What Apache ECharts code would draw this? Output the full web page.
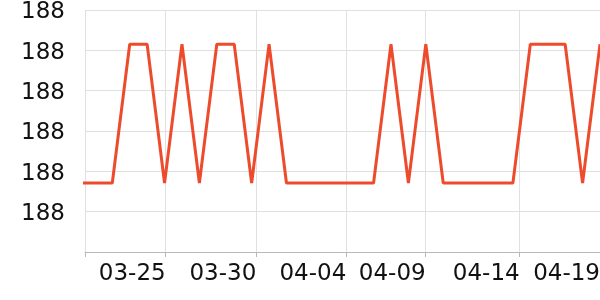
<!DOCTYPE html>
<html>
<head>
<meta charset="utf-8">
<script src="https://cdn.jsdelivr.net/npm/echarts@6/dist/echarts.min.js"></script>
<style>html,body{margin:0;padding:0;background:#fff}#c{width:600px;height:300px}</style>
</head>
<body>
<div id="c"></div>
<script>
// sample index (position along the x axis) and series values
const sampleIdx = [-2,-1,0,1,2,3,4,5,6,7,8,9,10,11,12,13,14,15,16,17,18,19,20,21,22,23,24,25,26,27,28];
const HI = 188.0215, LO = 187.9871;
const values = [LO,LO,LO,HI,HI,LO,HI,LO,HI,HI,LO,HI,LO,LO,LO,LO,LO,LO,HI,LO,HI,LO,LO,LO,LO,LO,HI,HI,HI,LO,HI];
// x-axis tick positions (in sample index units) and their labels
const xMin = -1.567, xMax = 28;
const tickPositions = [-1.567, 3.065, 8.266, 13.433, 17.99, 23.387, 28];
const labelPositions = [3.065, 8.266, 13.433, 17.99, 23.387, 28];
const tickLabels = ['03-25', '03-30', '04-04', '04-09', '04-14', '04-19'];
// y axis
const yMin = 187.97, yMax = 188.03, yInterval = 0.01;

const chart = echarts.init(document.getElementById('c'), null, {renderer: 'canvas'});
const font = 'DejaVu Sans';
chart.setOption({
  animation: false,
  grid: {left: 85, right: 0, top: 10, bottom: 48, containLabel: false, outerBoundsMode: 'none'},
  xAxis: {
    type: 'value', min: xMin, max: xMax,
    axisLine: {show: true, lineStyle: {color: '#b8b8b8', width: 1}},
    axisTick: {show: true, length: 5, customValues: tickPositions, lineStyle: {color: '#b8b8b8'}},
    splitLine: {show: true, lineStyle: {color: '#e0e0e0', width: 1}},
    axisLabel: {
      customValues: labelPositions,
      formatter: function (v) {
        const i = labelPositions.findIndex(p => Math.abs(p - v) < 1e-6);
        return i >= 0 ? tickLabels[i] : '';
      },
      align: 'right', margin: 11, fontSize: 23, fontFamily: font, color: '#111'
    }
  },
  yAxis: {
    type: 'value', min: yMin, max: yMax, interval: yInterval,
    axisLine: {show: false}, axisTick: {show: false},
    splitLine: {show: true, lineStyle: {color: '#e0e0e0', width: 1}},
    axisLabel: {
      showMinLabel: false, margin: 20, fontSize: 23, fontFamily: font, color: '#111',
      formatter: function (v) { return '{v|' + Math.round(v).toString() + '}'; },
      rich: {v: {fontSize: 23, fontFamily: font, color: '#111', padding: [5, 0, 0, 0]}}
    }
  },
  series: [{
    type: 'line', symbol: 'none', clip: true,
    data: sampleIdx.map((x, i) => [x, values[i]]),
    lineStyle: {color: '#ee4a2c', width: 3},
    itemStyle: {color: '#ee4a2c'}
  }]
});
</script>
</body>
</html>
